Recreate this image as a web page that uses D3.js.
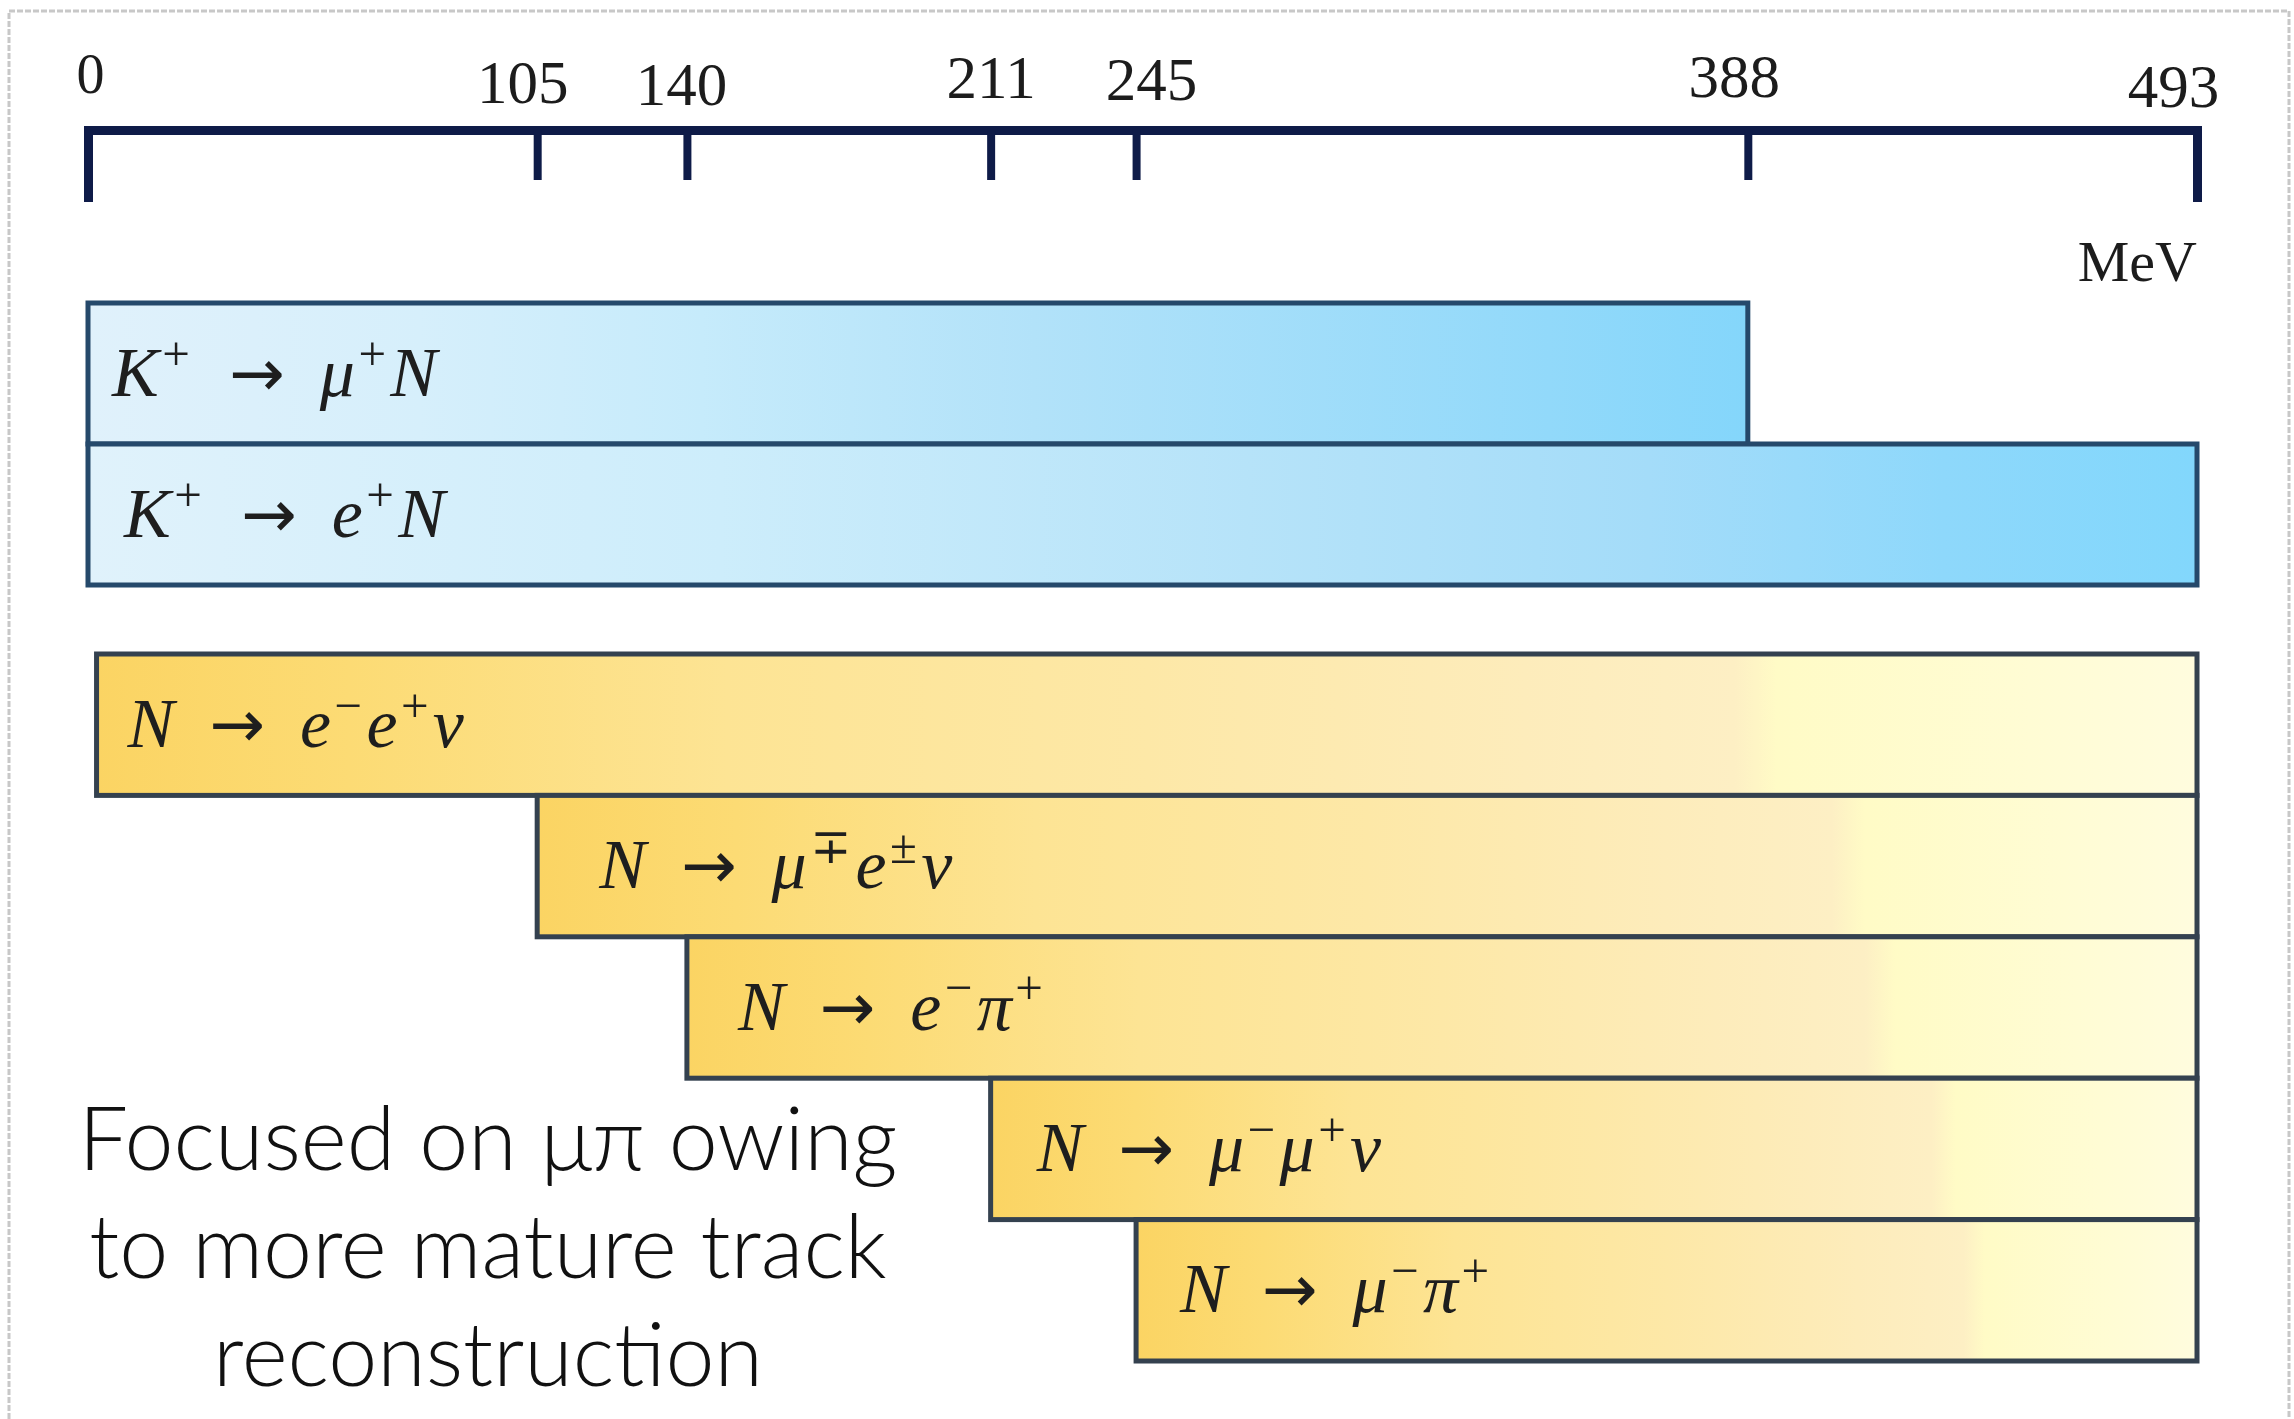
<!DOCTYPE html>
<html>
<head>
<meta charset="utf-8">
<script src="https://cdn.jsdelivr.net/npm/d3@7"></script>
<style>
  html, body { margin: 0; padding: 0; background: #ffffff; }
  svg { display: block; }
</style>
</head>
<body>
<script>
// Mass thresholds marked on the scale (MeV)
const tickValues = [0, 105, 140, 211, 245, 388, 493];
const massUnit = "MeV";

// Kaon production channels and their kinematic reach in heavy-lepton mass (MeV)
const productionChannels = ["K^{+} → μ^{+}N", "K^{+} → e^{+}N"];
const productionFrom = [0, 0];
const productionTo = [388, 493];

// Heavy neutral lepton decay channels and the mass at which each opens (MeV)
const decayChannels = ["N → e^{−}e^{+}ν", "N → μ^{∓}e^{±}ν", "N → e^{−}π^{+}", "N → μ^{−}μ^{+}ν", "N → μ^{−}π^{+}"];
const decayFrom = [2, 105, 140, 211, 245];
const decayTo = [493, 493, 493, 493, 493];

// Side note
const noteLines = ["Focused on μπ owing", "to more mature track", "reconstruction"];

// ---------------- layout ----------------
const W = 2294, H = 1419;
const axisY = 130;
const mathFont = "'Liberation Serif', 'DejaVu Serif', serif";
const arrowFont = "'DejaVu Sans', sans-serif";
const noteFont = "Lato, 'Open Sans', 'Noto Sans', sans-serif";

// small per-label adjustments of the tick labels [dx, dy, size]
const tickLabelStyle = [[2, -10, 56], [-15, 0, 61], [-6, 2, 61], [0, -5, 61], [15, -3, 61], [-14, -6, 61], [-24, 4, 61]];
// horizontal inset of each channel label inside its bar
const labelInset = [24, 36, 31, 62, 51, 46, 44];

const svg = d3.select("body").append("svg")
  .attr("width", W).attr("height", H)
  .attr("viewBox", `0 0 ${W} ${H}`);

svg.append("rect").attr("width", W).attr("height", H).attr("fill", "#ffffff");

// light frame around the panel
svg.append("path")
  .attr("d", `M9,${H} V11 H2289 V${H}`)
  .attr("fill", "none")
  .attr("stroke", "#c8c8c8")
  .attr("stroke-width", 3)
  .attr("stroke-dasharray", "6 2");

const x = d3.scaleLinear().domain([0, 493]).range([88, 2197]);
const yProd = d3.scaleBand().domain(productionChannels).range([303, 585]).padding(0);
const yDecay = d3.scaleBand().domain(decayChannels).range([654, 1361]).padding(0);

// ---------- gradients ----------
const defs = svg.append("defs");
function addGradient(id, stops) {
  const g = defs.append("linearGradient").attr("id", id)
    .attr("x1", "0").attr("x2", "1").attr("y1", "0").attr("y2", "0");
  stops.forEach(([o, c]) => g.append("stop").attr("offset", o).attr("stop-color", c));
}
addGradient("blueA", [[0, "#e0f1fb"], [0.2, "#d6effb"], [0.37, "#c6ebfb"], [0.57, "#b2e2f9"], [0.88, "#92d9fa"], [1, "#84d6fb"]]);
addGradient("blueB", [[0, "#e0f2fb"], [0.3, "#cdedfb"], [0.55, "#b6e3f9"], [0.74, "#a4dcf9"], [0.88, "#8ed8fb"], [1, "#82d7fc"]]);
addGradient("gold", [[0, "#fbd463"], [0.12, "#fcdb74"], [0.3, "#fde494"], [0.5, "#fde8a7"], [0.68, "#fdecbb"], [0.78, "#fdefc4"], [0.8, "#fffbc6"], [0.92, "#fffcd4"], [1, "#fffcde"]]);

// ---------- axis ----------
const axisLine = d3.axisBottom(x)
  .tickValues(tickValues)
  .tickSizeInner(50)
  .tickSizeOuter(72)
  .tickFormat("");
const gAxis = svg.append("g").attr("transform", `translate(0,${axisY})`).call(axisLine);
gAxis.select(".domain").attr("stroke", "#0e1b48").attr("stroke-width", 9).attr("stroke-linejoin", "miter");
gAxis.selectAll(".tick line").attr("stroke", "#0e1b48").attr("stroke-width", 8);

const axisLabels = d3.axisTop(x).tickValues(tickValues).tickSize(0).tickPadding(27);
const gLab = svg.append("g").attr("transform", `translate(0,${axisY})`).call(axisLabels);
gLab.select(".domain").remove();
gLab.attr("font-family", mathFont);
gLab.selectAll(".tick text")
  .attr("fill", "#1c1c1c")
  .attr("dx", (d, i) => tickLabelStyle[i][0])
  .attr("dy", (d, i) => tickLabelStyle[i][1])
  .attr("font-size", (d, i) => tickLabelStyle[i][2]);

svg.append("text")
  .attr("x", x(493)).attr("y", 281)
  .attr("text-anchor", "end")
  .attr("font-family", mathFont)
  .attr("font-size", 58)
  .attr("fill", "#1c1c1c")
  .text(massUnit);

// ---------- math label helper ----------
// splits "K^{+} → μ^{+}N" into italic symbols, superscripts and the arrow
function mathTokens(s) {
  const out = [];
  let i = 0;
  while (i < s.length) {
    if (s[i] === "^" && s[i + 1] === "{") {
      const j = s.indexOf("}", i);
      out.push({ t: s.slice(i + 2, j), kind: "sup" });
      i = j + 1;
      continue;
    }
    const c = s[i];
    i++;
    if (c === " ") continue;
    if (c === "→") { out.push({ t: c, kind: "arrow" }); continue; }
    const kind = /[A-Za-zα-ωΑ-Ω]/.test(c) ? "italic" : "upright";
    const last = out[out.length - 1];
    if (last && last.kind === kind) last.t += c;
    else out.push({ t: c, kind });
  }
  return out;
}
function drawMath(sel, str, size) {
  const raise = size * 0.36;
  const gap = size * 0.5;
  let up = false, afterArrow = false, afterSup = false;
  mathTokens(str).forEach(tok => {
    const ts = sel.append("tspan").text(tok.t);
    let dy = 0, dx = afterArrow ? gap : 0;
    afterArrow = false;
    if (tok.kind === "sup") {
      ts.attr("font-size", size * 0.7).attr("font-style", "normal");
      dx += size * 0.05;
      if (!up) { dy = -raise; up = true; }
      afterSup = true;
    } else {
      if (up) { dy = raise; up = false; }
      if (afterSup) dx += size * 0.06;
      afterSup = false;
      if (tok.kind === "arrow") {
        ts.attr("font-family", arrowFont).attr("font-size", size * 0.95).attr("font-style", "normal");
        dx += gap;
        afterArrow = true;
      } else {
        ts.attr("font-size", size).attr("font-style", tok.kind === "italic" ? "italic" : "normal");
      }
    }
    if (dx) ts.attr("dx", dx);
    if (dy) ts.attr("dy", dy);
  });
}

// ---------- bars ----------
const labelSize = 70;

const prod = productionChannels.map((c, i) => ({ c, from: productionFrom[i], to: productionTo[i], i }));
const dec = decayChannels.map((c, i) => ({ c, from: decayFrom[i], to: decayTo[i], i: i + 2 }));

function drawBars(data, yScale, fill, stroke) {
  const g = svg.append("g");
  g.selectAll("rect").data(data).join("rect")
    .attr("x", d => x(d.from))
    .attr("y", d => yScale(d.c))
    .attr("width", d => x(d.to) - x(d.from))
    .attr("height", yScale.bandwidth())
    .attr("fill", typeof fill === "function" ? fill : () => fill)
    .attr("stroke", stroke)
    .attr("stroke-width", 5);
  g.selectAll("text").data(data).join("text")
    .attr("x", d => x(d.from) + labelInset[d.i])
    .attr("y", d => yScale(d.c) + yScale.bandwidth() / 2 + 22)
    .attr("font-family", mathFont)
    .attr("fill", "#1e1e1e")
    .each(function (d) { drawMath(d3.select(this), d.c, labelSize); });
}

drawBars(prod, yProd, d => d.i === 0 ? "url(#blueA)" : "url(#blueB)", "#25496b");
drawBars(dec, yDecay, "url(#gold)", "#34414f");

// ---------- note ----------
svg.append("g")
  .selectAll("text").data(noteLines).join("text")
  .attr("x", 488)
  .attr("y", (d, i) => 1170 + i * 108)
  .attr("text-anchor", "middle")
  .attr("font-family", noteFont)
  .attr("font-weight", 300)
  .attr("font-size", 88)
  .attr("fill", "#111111")
  .text(d => d);
</script>
</body>
</html>
